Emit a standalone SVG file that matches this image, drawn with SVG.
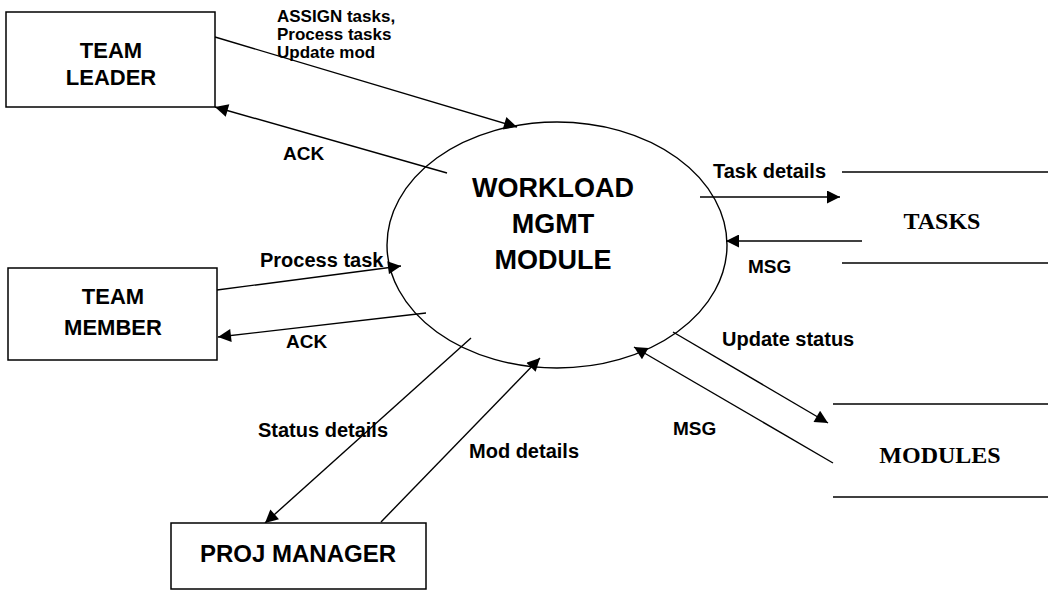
<svg xmlns="http://www.w3.org/2000/svg" width="1048" height="591" viewBox="0 0 1048 591">
<style>
.box{fill:#fff;stroke:#000;stroke-width:1.5}
.ln{stroke:#000;stroke-width:1.4;fill:none}
.ar{stroke:#000;stroke-width:1.4;fill:none;marker-end:url(#ah)}
.t{font-family:"Liberation Sans",Arial,sans-serif;font-weight:bold;fill:#000}
.s{font-family:"Liberation Serif","Times New Roman",serif;font-weight:bold;fill:#000}
</style>
<defs>
<marker id="ah" viewBox="0 0 10 10" refX="10" refY="5" markerWidth="17" markerHeight="13" markerUnits="userSpaceOnUse" orient="auto">
<path d="M0,0 L10,5 L0,10 z" fill="#000"/>
</marker>
</defs>
<rect width="1048" height="591" fill="#fff"/>
<g id="connectors">
<line class="ar" x1="215" y1="37" x2="517" y2="127"/>
<line class="ar" x1="447" y1="173" x2="215" y2="107"/>
<line class="ar" x1="217" y1="290" x2="401" y2="266"/>
<line class="ar" x1="426" y1="313" x2="218" y2="337"/>
<line class="ar" x1="471" y1="338" x2="265" y2="523"/>
<line class="ar" x1="381" y1="522" x2="540" y2="358"/>
<line class="ar" x1="700" y1="197" x2="840" y2="197"/>
<line class="ar" x1="862" y1="241" x2="726" y2="241"/>
<line class="ar" x1="673" y1="332" x2="828" y2="423"/>
<line class="ar" x1="833" y1="463" x2="634" y2="347"/>
<text class="t" font-size="17"><tspan x="277" y="22">ASSIGN tasks,</tspan><tspan x="277" y="40">Process tasks</tspan><tspan x="277" y="58">Update mod</tspan></text>
<text class="t" font-size="19" x="283" y="160">ACK</text>
<text class="t" font-size="20" x="260" y="267">Process task</text>
<text class="t" font-size="19" x="286" y="348">ACK</text>
<text class="t" font-size="20" x="258" y="437">Status details</text>
<text class="t" font-size="20" x="469" y="458">Mod details</text>
<text class="t" font-size="20" x="713" y="178">Task details</text>
<text class="t" font-size="19" x="748" y="273">MSG</text>
<text class="t" font-size="20" x="722" y="346">Update status</text>
<text class="t" font-size="19" x="673" y="435">MSG</text>
</g>
<g id="team-leader">
<rect class="box" x="6" y="12" width="209" height="95"/>
<text class="t" font-size="22" text-anchor="middle"><tspan x="111" y="58">TEAM</tspan><tspan x="111" y="85">LEADER</tspan></text>
</g>
<g id="team-member">
<rect class="box" x="8" y="268" width="209" height="92"/>
<text class="t" font-size="22" text-anchor="middle"><tspan x="113" y="304">TEAM</tspan><tspan x="113" y="335">MEMBER</tspan></text>
</g>
<g id="proj-manager">
<rect class="box" x="171" y="523" width="255" height="66"/>
<text class="t" font-size="24" text-anchor="middle" x="298" y="562">PROJ MANAGER</text>
</g>
<g id="workload">
<ellipse class="ln" cx="557" cy="245" rx="170" ry="123"/>
<text class="t" font-size="27" text-anchor="middle"><tspan x="553" y="197">WORKLOAD</tspan><tspan x="553" y="233">MGMT</tspan><tspan x="553" y="269">MODULE</tspan></text>
</g>
<g id="tasks">
<line class="ln" x1="842" y1="172" x2="1048" y2="172"/>
<line class="ln" x1="842" y1="263" x2="1048" y2="263"/>
<text class="s" font-size="24" text-anchor="middle" x="942" y="229">TASKS</text>
</g>
<g id="modules">
<line class="ln" x1="833" y1="404" x2="1048" y2="404"/>
<line class="ln" x1="833" y1="497" x2="1048" y2="497"/>
<text class="s" font-size="24" text-anchor="middle" x="940" y="463">MODULES</text>
</g>
</svg>
